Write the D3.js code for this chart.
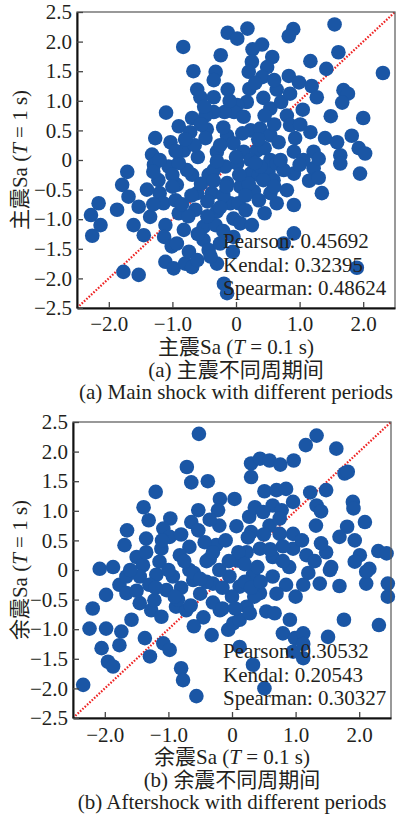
<!DOCTYPE html>
<html>
<head>
<meta charset="utf-8">
<script src="https://cdn.jsdelivr.net/npm/d3@7"></script>
<style>
  body { margin: 0; background: #fff; }
  text { font-family: "Liberation Serif", "Times New Roman", serif; fill: #231f20; }
  .cjk { font-family: "Noto Sans CJK SC", sans-serif; }
</style>
</head>
<body>
<script>
// tick labels
var xTicks = [-2, -1, 0, 1, 2];
var yTicks = [-2.5, -2, -1.5, -1, -0.5, 0, 0.5, 1, 1.5, 2, 2.5];

// panel (a) main shock, [Sa(T=0.1s), Sa(T=1s)]
var mainShock = [
  [-0.83,1.91],[-0.13,2.15],[0.02,2.05],[0.18,2.22],[0.90,2.21],[0.83,2.09],[1.55,2.29],[0.41,1.95],
  [0.26,1.87],[-0.24,1.77],[0.57,1.74],[1.61,1.82],[1.17,1.67],[1.42,1.54],[2.31,1.47],[-0.67,1.50],
  [-0.32,1.49],[-0.35,1.35],[0.25,1.66],[0.20,1.49],[0.49,1.57],[0.41,1.40],[0.83,1.42],[0.99,1.31],
  [1.19,1.25],[1.27,1.06],[1.69,1.18],[1.76,1.12],[1.67,0.97],[-0.61,1.19],[-0.56,1.06],[-0.35,1.06],
  [-0.13,1.19],[0.21,1.20],[0.17,0.98],[0.43,1.05],[0.64,1.19],[0.54,0.87],[0.71,0.98],[0.85,1.12],
  [-1.10,0.80],[0.02,0.93],[-0.03,0.81],[0.12,0.73],[-0.18,0.81],[-0.35,0.81],[-0.48,0.75],[-0.69,0.71],
  [-0.90,0.57],[1.49,0.74],[2.00,0.71],[0.80,0.75],[0.85,0.59],[1.01,0.60],[-1.27,0.37],[-1.03,0.30],
  [-0.72,0.47],[-0.46,0.52],[-0.48,0.37],[-0.14,0.41],[-0.04,0.28],[0.23,0.50],[0.38,0.53],[0.54,0.42],
  [0.67,0.30],[0.93,0.37],[1.17,0.47],[1.40,0.37],[1.59,0.30],[1.82,0.41],[1.93,0.20],[2.03,0.11],
  [-1.32,0.09],[-0.82,0.16],[-0.30,0.14],[0.12,0.14],[0.33,0.16],[0.91,0.14],[1.22,0.14],[1.64,0.08],
  [-1.71,-0.20],[-1.79,-0.42],[-2.16,-0.73],[-2.28,-0.93],[-2.13,-1.10],[-2.26,-1.28],[-1.87,-0.84],[-1.69,-0.62],
  [-1.53,-0.79],[-1.61,-1.10],[-1.45,-1.27],[-1.35,-0.96],[-1.22,-0.34],[-1.20,-0.56],[-1.14,-0.73],[-1.11,-1.10],
  [-1.13,-1.30],[-1.01,-1.46],[-1.06,-0.11],[-0.93,-0.42],[-0.95,-0.68],[-0.90,-0.90],[-0.82,-1.18],[-0.93,-1.41],
  [-1.11,-1.72],[-0.98,-1.83],[-0.80,-1.75],[-0.69,-1.81],[-0.74,-1.55],[-1.77,-1.89],[-1.53,-1.94],[-0.69,-0.25],
  [-0.61,-0.56],[-0.64,-0.84],[-0.51,-1.13],[-0.51,-1.35],[-0.43,-0.25],[-0.38,-0.56],[-0.30,-0.87],[-0.32,-1.10],
  [-0.43,-1.52],[-0.25,-1.41],[-0.30,-1.75],[-0.19,-2.09],[-0.14,-2.25],[-0.17,-0.11],[-0.14,-0.39],[-0.09,-0.73],
  [-0.04,-0.99],[0.07,-1.07],[-0.04,-1.30],[0.07,-0.45],[0.04,-0.73],[0.23,-0.23],[0.28,-0.53],[0.36,-0.68],
  [0.36,-0.25],[0.51,-0.20],[0.59,-0.34],[0.64,-0.73],[0.80,-0.51],[0.91,-0.23],[0.91,-0.76],[0.91,-1.24],
  [0.75,-1.41],[1.22,-0.14],[1.35,-0.56],[1.64,-0.06],[1.95,-0.23],[1.90,-1.82],[0.54,0.00],[0.64,-0.06],
  [1.06,0.00],[0.23,0.00],[0.02,-0.06],[0.54,-0.56],[0.43,-0.34],[-0.35,-0.17],[-0.77,-0.17],[-1.29,-0.08],
  [-0.61,-1.69],[-0.40,-1.63],[0.75,-0.17],[0.38,-0.11],[-1.20,0.00],[-0.90,-0.05],[-0.60,0.05],[-0.30,-0.02],
  [0.00,0.05],[0.30,-0.05],[0.70,0.00],[1.00,-0.08],[1.30,0.02],[-0.55,-0.40],[-0.20,-0.60],[0.15,-0.85],
  [-0.75,-0.95],[-0.45,-0.70],[0.20,-0.40],[-1.00,-0.25],[-0.25,0.25],[0.45,0.20],[-0.65,0.25],[1.15,-0.35],
  [-0.80,0.35],[-0.55,0.60],[-0.20,0.55],[0.10,0.45],[0.35,0.35],[0.60,0.60],[-1.00,-0.45],[-0.70,-0.60],
  [-0.45,-0.95],[-0.15,-0.45],[0.15,-0.60],[0.45,-0.90],[-0.60,-1.25],[-0.20,-1.20],[0.25,-1.10],[-0.85,-0.75],
  [-0.35,-0.35],[0.05,-0.25],[0.60,-0.45],[-1.40,-0.50],[-1.30,-0.20],[-0.95,0.15],[0.45,0.75],[0.30,1.30],
  [-0.10,1.00],[0.60,1.35],[-0.50,0.90],[1.05,0.85],[1.30,-0.30],[-0.05,-1.55],[-1.30,-0.75],[-0.25,-0.80]
];

// panel (b) aftershock, [Sa(T=0.1s), Sa(T=1s)]
var afterShock = [
  [-0.52,2.30],[1.33,2.27],[1.16,2.11],[1.64,2.05],[-0.71,1.74],[-0.64,1.48],[-0.38,1.50],[0.30,1.80],
  [0.44,1.88],[0.59,1.85],[0.76,1.78],[0.97,1.85],[0.30,1.57],[1.77,1.63],[1.82,1.66],[1.48,1.35],
  [1.23,1.31],[-1.20,1.32],[-1.39,1.06],[-1.31,0.84],[-1.65,0.67],[-1.69,0.42],[-1.35,0.53],[-1.50,0.22],
  [-0.97,0.87],[-1.08,0.70],[-0.98,0.56],[-1.11,0.36],[-0.19,1.20],[0.04,1.20],[-0.53,1.01],[-0.22,1.01],
  [-0.64,0.81],[-0.53,0.67],[0.07,0.74],[0.27,0.90],[0.36,1.06],[0.51,1.33],[0.70,1.35],[0.85,1.37],
  [0.96,1.15],[0.64,1.09],[0.78,1.01],[0.49,0.98],[0.59,0.75],[0.30,0.64],[0.75,0.87],[0.96,0.61],
  [0.75,0.61],[1.33,1.09],[1.40,0.99],[1.32,0.75],[1.90,1.15],[1.91,1.04],[2.09,0.81],[1.81,0.73],
  [1.69,0.56],[1.93,0.50],[1.48,0.30],[2.01,0.25],[2.30,0.32],[2.43,0.28],[1.93,0.14],[1.56,0.05],
  [0.96,0.36],[0.64,0.22],[0.23,0.30],[0.09,0.16],[-0.25,0.42],[-0.43,0.47],[-0.67,0.39],[-0.82,0.25],
  [-2.08,0.02],[-1.87,0.05],[-1.40,0.08],[-1.14,0.14],[-0.35,0.19],[0.44,0.36],[1.17,0.25],[2.16,0.02],
  [-2.34,-1.94],[-2.19,-0.65],[-2.24,-0.99],[-1.98,-0.42],[-1.98,-0.99],[-2.05,-1.32],[-1.95,-1.55],[-1.87,-1.63],
  [-1.77,-1.27],[-1.74,-1.04],[-1.77,-0.25],[-1.66,-0.39],[-1.58,-0.84],[-1.37,-1.15],[-1.29,-1.46],[-1.45,-0.56],
  [-1.27,-0.68],[-1.11,-0.79],[-1.08,-1.24],[-0.98,-1.35],[-0.80,-1.66],[-0.77,-1.86],[-0.56,-2.13],[-1.22,-0.51],
  [-1.03,-0.34],[-0.88,-0.62],[-0.72,-0.68],[-0.93,-0.11],[-0.61,-0.17],[-0.30,-0.23],[-0.32,-1.10],[-0.19,-0.68],
  [-0.06,-1.01],[0.02,-0.90],[0.12,-1.30],[0.12,-0.84],[0.23,-0.62],[0.28,-0.73],[0.33,-1.60],[0.51,-2.00],
  [0.44,-0.39],[0.54,-0.70],[0.67,-0.73],[0.91,-0.84],[0.80,-1.07],[0.99,-1.15],[1.12,-1.07],[1.12,-1.49],
  [1.51,-1.13],[1.76,-0.84],[2.31,-0.93],[0.85,-0.25],[1.12,-0.25],[1.38,-0.23],[1.69,-0.27],[2.11,-0.23],
  [2.45,-0.23],[2.45,-0.45],[1.54,0.00],[2.11,-0.03],[0.12,-0.28],[-0.04,-0.11],[0.33,-0.08],[0.64,-0.11],
  [-1.19,-0.08],[-1.45,-0.11],[0.96,-1.38],[1.12,-1.25],[-1.66,-0.11],[-0.67,0.00],[-0.80,-0.30],[-0.50,-0.40],
  [-0.30,-0.55],[-0.60,-0.05],[-0.20,0.00],[0.00,-0.45],[0.20,-0.20],[0.40,0.05],[0.70,-0.40],[0.90,0.05],
  [1.20,-0.05],[-1.00,0.00],[-0.40,0.15],[0.10,0.30],[-0.10,0.50],[-0.30,0.30],[0.25,0.55],[0.50,0.60],
  [0.80,0.40],[1.10,0.50],[1.30,0.15],[-0.85,-0.50],[-0.45,-0.80],[-1.30,-0.25],[-0.15,-0.30],[0.35,-0.45],
  [-1.20,-0.30],[-0.90,-0.45],[-0.65,-0.60],[-0.40,-0.20],[-0.15,-0.65],[0.05,-0.65],[0.30,-0.30],[-0.75,0.15],
  [-0.50,-0.15],[-0.05,0.15],[0.20,0.10],[-1.35,0.30],[-1.10,0.50],[-0.80,0.60],[-0.20,0.75],[0.60,0.35],
  [0.45,-0.20],[-0.60,-0.95],[-1.50,-0.35],[-1.60,0.00],[0.80,0.15],[1.00,-0.45],[1.40,0.45],[-0.35,0.85]
];

var statsA = ["Pearson: 0.45692", "Kendal: 0.32395", "Spearman: 0.48624"];
var statsB = ["Pearson: 0.30532", "Kendal: 0.20543", "Spearman: 0.30327"];

var svg = d3.select("body").append("svg")
  .attr("width", 396)
  .attr("height", 817);

function fmt(d) {
  return d === 0 ? "0" : d3.format(".1f")(d).replace("-", "\u2212");
}

function drawPanel(opts) {
  var x = d3.scaleLinear().domain([-2.5, 2.5]).range([opts.left, opts.right]);
  var y = d3.scaleLinear().domain([-2.5, 2.5]).range([opts.bottom, opts.top]);
  var g = svg.append("g");

  // dotted 1:1 line
  g.append("line")
    .attr("x1", x(-2.5)).attr("y1", y(-2.5))
    .attr("x2", x(2.5)).attr("y2", y(2.5))
    .attr("stroke", "#ee2222")
    .attr("stroke-width", 2.2)
    .attr("stroke-dasharray", "1.6,1.6");

  g.selectAll("circle")
    .data(opts.data)
    .enter()
    .append("circle")
    .attr("cx", function(d) { return x(d[0]); })
    .attr("cy", function(d) { return y(d[1]); })
    .attr("r", 7.3)
    .attr("fill", "#1a56a5");

  // frame
  g.append("rect")
    .attr("x", opts.left).attr("y", opts.top)
    .attr("width", opts.right - opts.left)
    .attr("height", opts.bottom - opts.top)
    .attr("fill", "none")
    .attr("stroke", "#555")
    .attr("stroke-width", 1.2);

  var xAxis = g.append("g")
    .attr("transform", "translate(0," + opts.bottom + ")")
    .call(d3.axisBottom(x).tickValues(xTicks).tickSizeInner(-6).tickSizeOuter(0).tickFormat(fmt));
  xAxis.select(".domain").attr("stroke", "#111").attr("stroke-width", 2);
  xAxis.selectAll(".tick line").attr("stroke", "#444").attr("stroke-width", 1.3);
  xAxis.selectAll("text")
    .attr("y", opts.tickY)
    .attr("dy", "0")
    .style("font-size", "21px")
    .style("font-family", "Liberation Serif")
    .attr("fill", "#231f20");

  var yAxis = g.append("g")
    .attr("transform", "translate(" + opts.left + ",0)")
    .call(d3.axisLeft(y).tickValues(yTicks).tickSizeInner(-6).tickSizeOuter(0).tickFormat(fmt));
  yAxis.select(".domain").attr("stroke", "#111").attr("stroke-width", 2);
  yAxis.selectAll(".tick line").attr("stroke", "#444").attr("stroke-width", 1.3);
  yAxis.selectAll("text")
    .attr("x", -5)
    .style("font-size", "21px")
    .style("font-family", "Liberation Serif")
    .attr("fill", "#231f20");

  // correlation text
  g.selectAll(".stat")
    .data(opts.stats)
    .enter()
    .append("text")
    .attr("class", "stat")
    .attr("x", opts.statX)
    .attr("y", function(d, i) { return opts.statY + i * 23.5; })
    .style("font-size", "21px")
    .text(function(d) { return d; });

  var cx = (opts.left + opts.right) / 2;

  // y label (rotated)
  var yl = g.append("text")
    .attr("transform", "translate(27," + (opts.top + opts.bottom) / 2 + ") rotate(-90)")
    .attr("text-anchor", "middle")
    .style("font-size", "21px");
  yl.append("tspan").attr("class", "cjk").text(opts.name);
  yl.append("tspan").text("Sa (");
  yl.append("tspan").style("font-style", "italic").text("T");
  yl.append("tspan").text(" = 1 s)");

  var xl = g.append("text")
    .attr("x", cx).attr("y", opts.bottom + 46)
    .attr("text-anchor", "middle")
    .style("font-size", "21px");
  xl.append("tspan").attr("class", "cjk").text(opts.name);
  xl.append("tspan").text("Sa (");
  xl.append("tspan").style("font-style", "italic").text("T");
  xl.append("tspan").text(" = 0.1 s)");

  var c1 = g.append("text")
    .attr("x", cx).attr("y", opts.bottom + 69)
    .attr("text-anchor", "middle")
    .style("font-size", "21px");
  c1.append("tspan").text(opts.tag + " ");
  c1.append("tspan").attr("class", "cjk").text(opts.cnCaption);

  g.append("text")
    .attr("x", cx).attr("y", opts.bottom + 91)
    .attr("text-anchor", "middle")
    .style("font-size", "21px")
    .text(opts.tag + " " + opts.enCaption);
}

drawPanel({
  data: mainShock, stats: statsA,
  left: 77, right: 395, top: 12, bottom: 308, tickY: 23,
  statX: 223, statY: 248,
  name: "主震", tag: "(a)", cnCaption: "主震不同周期间",
  enCaption: "Main shock with different periods"
});

drawPanel({
  data: afterShock, stats: statsB,
  left: 73, right: 391, top: 422, bottom: 718, tickY: 24,
  statX: 223, statY: 658,
  name: "余震", tag: "(b)", cnCaption: "余震不同周期间",
  enCaption: "Aftershock with different periods"
});
</script>
</body>
</html>
